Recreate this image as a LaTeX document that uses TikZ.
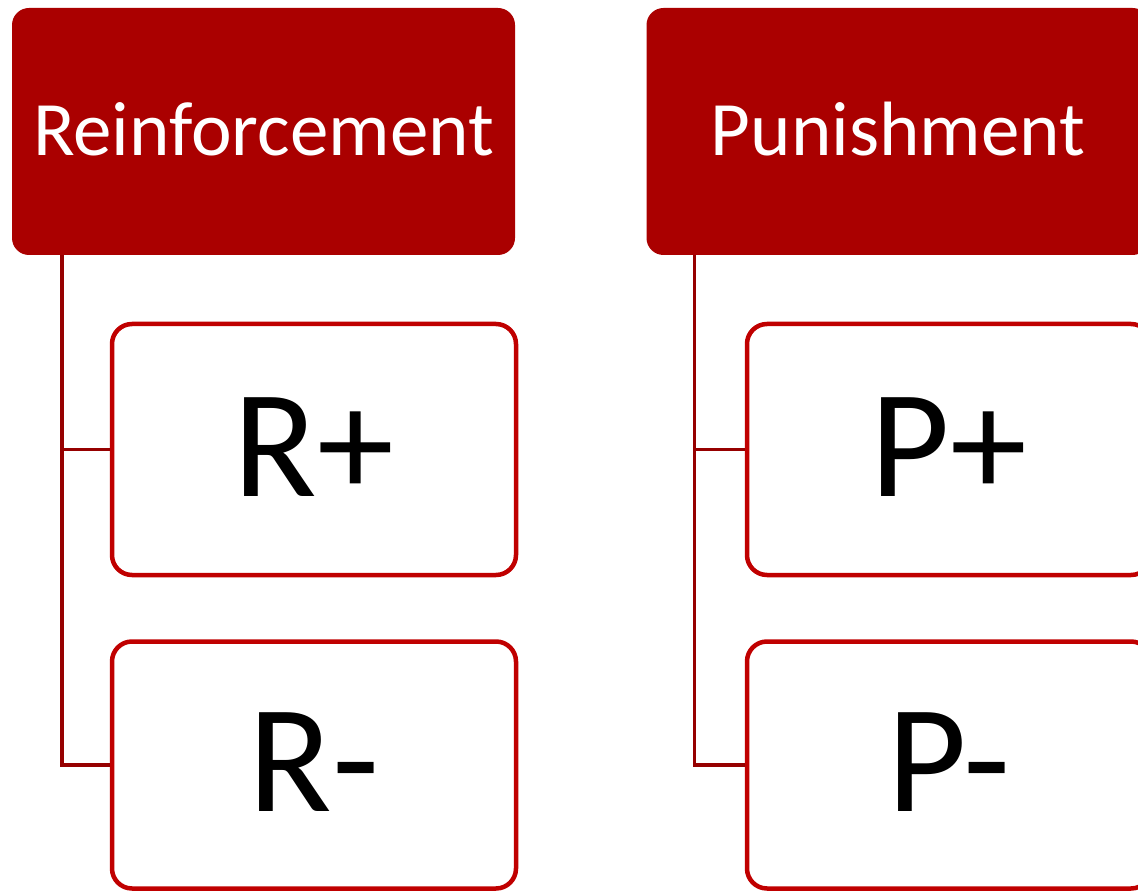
\documentclass[tikz,border=0pt]{standalone}
\usepackage{fontspec}
\setmainfont{Carlito}
\definecolor{topred}{RGB}{170,0,0}
\definecolor{boxred}{RGB}{192,0,0}
\definecolor{linered}{RGB}{150,0,0}
\newcommand{\lift}[1]{\raisebox{5pt}{#1}}
\begin{document}
\begin{tikzpicture}[x=1pt,y=-1pt,
  topbox/.style={fill=topred, rounded corners=17pt, inner sep=0pt,
    minimum width=503pt, minimum height=247pt, text=white,
    font=\fontsize{77}{80}\selectfont},
  childbox/.style={draw=boxred, line width=4.5pt, fill=white, rounded corners=20pt,
    inner sep=0pt, minimum width=404pt, minimum height=251pt, text=black,
    font=\fontsize{154}{160}\selectfont},
  link/.style={draw=linered, line width=3.5pt}]
\useasboundingbox (0,0) rectangle (1138,893);
\clip (0,0) rectangle (1138,893);
\node[topbox] (rtop) at (263.5,131.5) {\lift{Reinforcement}};
\node[topbox] (ptop) at (898,131.5) {\lift{Punishment}};
\node[childbox] (rp) at (314,449.5) {\lift{R+}};
\node[childbox, minimum height=247pt] (rm) at (314,765) {\lift{R-}};
\node[childbox] (pp) at (949,449.5) {\lift{P+}};
\node[childbox, minimum height=247pt] (pm) at (949,765) {\lift{P-}};
\coordinate (rj) at ([xshift=50pt]rtop.south west);
\coordinate (pj) at ([xshift=48pt]ptop.south west);
\draw[link] (rj) |- (rp.west);
\draw[link] (rj) |- (rm.west);
\draw[link] (pj) |- (pp.west);
\draw[link] (pj) |- (pm.west);
\end{tikzpicture}
\end{document}
